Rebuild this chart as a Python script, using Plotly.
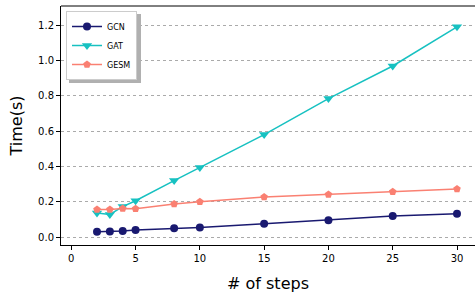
import plotly.graph_objects as go

steps = [2, 3, 4, 5, 8, 10, 15, 20, 25, 30]
gcn = [0.030, 0.031, 0.034, 0.040, 0.050, 0.054, 0.075, 0.096, 0.119, 0.132]
gat = [0.136, 0.128, 0.173, 0.206, 0.320, 0.395, 0.581, 0.785, 0.970, 1.192]
gesm = [0.156, 0.156, 0.162, 0.160, 0.187, 0.200, 0.227, 0.241, 0.257, 0.272]

x_ticks = [0, 5, 10, 15, 20, 25, 30]
y_ticks = [0.0, 0.2, 0.4, 0.6, 0.8, 1.0, 1.2]
y_tick_labels = ["0.0", "0.2", "0.4", "0.6", "0.8", "1.0", "1.2"]

series = [
    ("GCN", gcn, "#191970", "circle", 8),
    ("GAT", gat, "#17c1c1", "triangle-down", 9),
    ("GESM", gesm, "#fa8072", "pentagon", 8),
]

fig = go.Figure()
for name, vals, color, sym, size in series:
    fig.add_trace(go.Scatter(
        x=steps, y=vals, name=name, mode="lines+markers",
        line=dict(color=color, width=1.5),
        marker=dict(symbol=sym, size=size, color=color),
    ))

W, H = 475, 293
L, R, T, B = 61, 0, 6, 48
PW, PH = W - L - R, H - T - B


def px(x):
    return (x - L) / PW


def py(y):
    return 1 - (y - T) / PH


font = "DejaVu Sans, sans-serif"
fig.update_layout(
    width=W, height=H,
    margin=dict(l=L, r=R, t=T, b=B, autoexpand=False),
    paper_bgcolor="white", plot_bgcolor="white",
    font=dict(family=font, color="black", size=10),
    showlegend=True,
    legend=dict(
        x=px(66), y=py(11), xanchor="left", yanchor="top",
        bgcolor="white", bordercolor="#cccccc", borderwidth=1,
        font=dict(size=8, family=font), itemwidth=30,
        tracegroupgap=0,
    ),
    xaxis=dict(
        range=[-0.8, 31.4], tickvals=x_ticks, automargin=False,
        showgrid=False, zeroline=False,
        showline=True, linecolor="black", linewidth=1,
        ticks="outside", ticklen=4, tickcolor="black",
        tickfont=dict(size=10),
        title=dict(text="# of steps", font=dict(size=16), standoff=16),
    ),
    yaxis=dict(
        range=[-0.045, 1.31], tickvals=y_ticks, ticktext=y_tick_labels,
        automargin=False,
        showgrid=True, gridcolor="#aaaaaa", griddash="dot", gridwidth=1,
        zeroline=False,
        showline=True, linecolor="black", linewidth=1,
        ticks="outside", ticklen=4, tickcolor="black",
        tickfont=dict(size=10),
        title=dict(text="Time(s)", font=dict(size=16), standoff=11),
    ),
    shapes=[
        dict(type="line", xref="paper", yref="paper", x0=0, x1=1, y0=1, y1=1,
             line=dict(color="black", width=1)),
        dict(type="rect", xref="paper", yref="paper",
             x0=px(69), x1=px(141), y0=py(83), y1=py(14),
             fillcolor="#b0b0b0", line=dict(width=0), layer="above"),
    ],
)

fig.write_html(
    "out.html",
    config={"displayModeBar": False},
    post_script="document.body.style.margin='0';document.body.style.overflow='hidden';",
)
